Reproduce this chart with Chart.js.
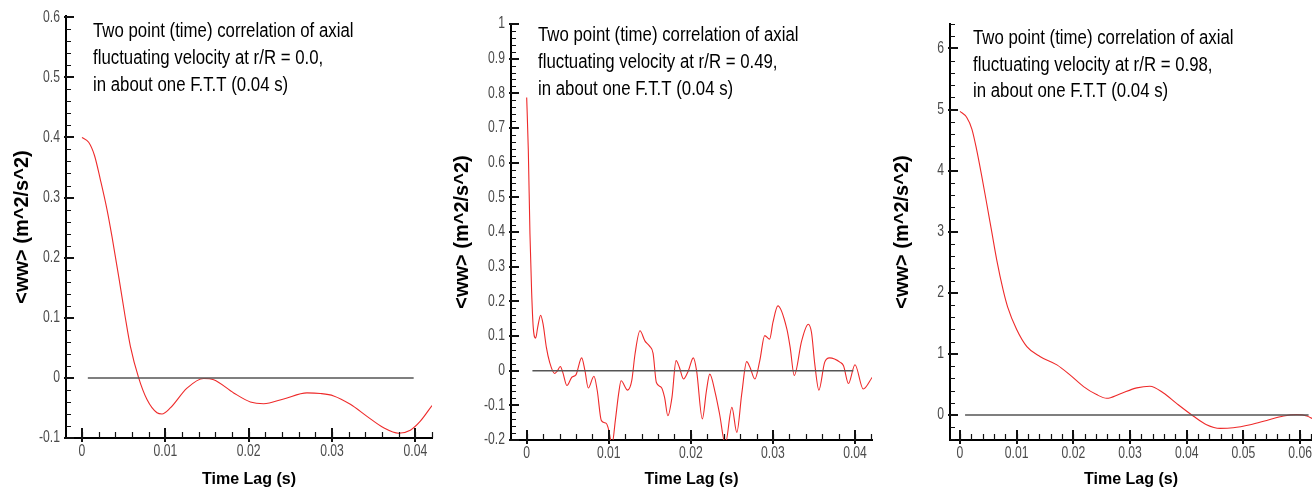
<!DOCTYPE html>
<html><head><meta charset="utf-8">
<script src="https://cdn.jsdelivr.net/npm/chart.js@4.4.1/dist/chart.umd.min.js"></script>
<style>
html,body{margin:0;padding:0;background:#fff;width:1312px;height:493px;overflow:hidden;}
.p{position:absolute;top:0;}
canvas{display:block;}
</style></head><body>
<div class="p" style="left:0px"><canvas id="c1" width="440" height="493"></canvas></div>
<div class="p" style="left:440px"><canvas id="c2" width="440" height="493"></canvas></div>
<div class="p" style="left:880px"><canvas id="c3" width="432" height="493"></canvas></div>
<script>
// ---------- data ----------
const lag1 = [0,0.0008,0.0015,0.0022,0.003,0.0036,0.0044,0.0052,0.0058,0.0068,0.0078,0.009,0.0096,0.0106,0.0126,0.0146,0.0158,0.0182,0.0202,0.0218,0.0242,0.027,0.0286,0.0302,0.0322,0.0342,0.0362,0.038,0.0394,0.0406,0.042];
const ww1  = [0.400,0.392,0.370,0.330,0.280,0.235,0.169,0.100,0.053,0.000,-0.036,-0.058,-0.060,-0.050,-0.017,-0.001,-0.003,-0.025,-0.040,-0.043,-0.035,-0.025,-0.026,-0.030,-0.044,-0.064,-0.083,-0.092,-0.087,-0.072,-0.046];

const lag2 = [0,0.0002,0.0004,0.0006,0.0008,0.0011,0.00134,0.0017,0.002,0.0024,0.0028,0.0034,0.0037,0.0041,0.0044,0.0049,0.0055,0.006,0.0067,0.0071,0.0075,0.0082,0.0086,0.0091,0.0097,0.0099,0.0104,0.0108,0.0112,0.0115,0.0123,0.0128,0.0132,0.0138,0.0144,0.015,0.0154,0.0158,0.0164,0.0168,0.0172,0.0177,0.0182,0.0186,0.0191,0.0197,0.0203,0.0207,0.0214,0.0219,0.0223,0.023,0.0235,0.0242,0.025,0.0256,0.0262,0.0268,0.0272,0.0278,0.0284,0.029,0.0296,0.03,0.0306,0.0317,0.0321,0.0326,0.0335,0.0343,0.0347,0.0351,0.0356,0.0363,0.0369,0.0382,0.0386,0.0392,0.04,0.041,0.0421];
const ww2  = [0.788,0.635,0.394,0.230,0.125,0.094,0.125,0.160,0.134,0.067,0.024,-0.008,-0.002,0.012,-0.005,-0.043,-0.019,-0.012,0.037,0.000,-0.050,-0.016,-0.058,-0.144,-0.152,-0.163,-0.212,-0.144,-0.067,-0.029,-0.056,-0.029,0.048,0.115,0.086,0.070,0.050,-0.034,-0.048,-0.077,-0.130,-0.077,0.029,0.010,-0.024,0.000,0.037,0.000,-0.139,-0.058,-0.010,-0.067,-0.125,-0.212,-0.106,-0.178,-0.067,0.026,0.010,-0.024,0.029,0.101,0.091,0.139,0.187,0.120,0.067,-0.014,0.086,0.134,0.110,0.019,-0.056,0.024,0.037,0.024,0.014,-0.037,0.017,-0.053,-0.019];

const lag3 = [0,0.0012,0.0021,0.0029,0.0038,0.0047,0.0056,0.0065,0.0076,0.0084,0.01,0.0118,0.0141,0.0171,0.0194,0.0218,0.0241,0.0259,0.0282,0.0312,0.0335,0.0359,0.0382,0.0412,0.0435,0.0459,0.0482,0.0512,0.0541,0.0571,0.0594,0.0612,0.0622];
const ww3  = [4.97,4.87,4.68,4.36,3.93,3.47,3.00,2.53,2.05,1.77,1.40,1.12,0.956,0.82,0.656,0.464,0.333,0.273,0.344,0.443,0.470,0.360,0.190,-0.020,-0.160,-0.220,-0.210,-0.160,-0.090,-0.016,0.005,-0.016,-0.060];

const zeroLag1 = [0.0007,0.0398], zeroLag2 = [0.0007,0.0398], zeroLag3 = [0.0009,0.0615];
const zeroVal = [0,0];

const xTicks1 = [0,0.01,0.02,0.03,0.04];
const xTicks2 = [0,0.01,0.02,0.03,0.04];
const xTicks3 = [0,0.01,0.02,0.03,0.04,0.05,0.06];
const xLabels1 = ['0','0.01','0.02','0.03','0.04'];
const xLabels2 = ['0','0.01','0.02','0.03','0.04'];
const xLabels3 = ['0','0.01','0.02','0.03','0.04','0.05','0.06'];
const yTicks1 = [-0.1,0,0.1,0.2,0.3,0.4,0.5,0.6];
const yLabels1 = ['-0.1','0','0.1','0.2','0.3','0.4','0.5','0.6'];
const yTicks2 = [-0.2,-0.1,0,0.1,0.2,0.3,0.4,0.5,0.6,0.7,0.8,0.9,1];
const yLabels2 = ['-0.2','-0.1','0','0.1','0.2','0.3','0.4','0.5','0.6','0.7','0.8','0.9','1'];
const yTicks3 = [0,1,2,3,4,5,6];
const yLabels3 = ['0','1','2','3','4','5','6'];

const note1 = ['Two point (time) correlation of axial','fluctuating velocity at r/R = 0.0,','in about one F.T.T (0.04 s)'];
const note2 = ['Two point (time) correlation of axial','fluctuating velocity at r/R = 0.49,','in about one F.T.T (0.04 s)'];
const note3 = ['Two point (time) correlation of axial','fluctuating velocity at r/R = 0.98,','in about one F.T.T (0.04 s)'];

const xTitle = 'Time Lag (s)';
const yTitle = '<ww> (m^2/s^2)';

// ---------- styling / drawing ----------
const SANS = '"Liberation Sans", Arial, Helvetica, sans-serif';
Chart.defaults.font.family = SANS;
Chart.defaults.animation = false;
const SQUEEZE = 0.76;

function minorList(major, min, max, sub){
  const step = (major[1]-major[0])/sub, out=[];
  for(let v=major[0]-step; v>=min-1e-9; v-=step) out.push(v);
  for(let v=major[0]; v<=max+1e-9; v+=step) out.push(v);
  return out;
}
function narrowText(ctx, txt, x, y, align, sx){
  ctx.save();
  ctx.translate(x, y);
  ctx.scale(sx, 1);
  ctx.textAlign = align;
  ctx.fillText(txt, 0, 0);
  ctx.restore();
}

const innerTicks = {
  id:'innerTicks',
  afterDraw(chart, args, o){
    const {ctx, chartArea:a, scales:{x,y}} = chart;
    ctx.save();
    ctx.strokeStyle = '#111';
    ctx.lineWidth = 1.2;
    ctx.beginPath();
    minorList(o.xMajor, x.min, x.max, 5).forEach(v=>{const p=Math.round(x.getPixelForValue(v))+0.5; ctx.moveTo(p,a.bottom); ctx.lineTo(p,a.bottom-6);});
    minorList(o.yMajor, y.min, y.max, 5).forEach(v=>{const p=Math.round(y.getPixelForValue(v))+0.5; ctx.moveTo(a.left,p); ctx.lineTo(a.left+5,p);});
    ctx.stroke();
    ctx.lineWidth = 2;
    ctx.beginPath();
    o.xMajor.forEach(v=>{const p=Math.round(x.getPixelForValue(v)); ctx.moveTo(p,a.bottom+4); ctx.lineTo(p,a.bottom-10);});
    o.yMajor.forEach(v=>{const p=Math.round(y.getPixelForValue(v)); ctx.moveTo(a.left-2,p); ctx.lineTo(a.left+8,p);});
    ctx.stroke();
    // tick labels (condensed look)
    ctx.fillStyle = '#4a4a4a';
    ctx.font = '16px ' + SANS;
    ctx.textBaseline = 'middle';
    o.xMajor.forEach((v,i)=>narrowText(ctx, o.xLab[i], x.getPixelForValue(v), a.bottom+14, 'center', SQUEEZE));
    o.yMajor.forEach((v,i)=>narrowText(ctx, o.yLab[i], a.left-6, y.getPixelForValue(v), 'right', SQUEEZE));
    // annotation
    ctx.fillStyle = '#000';
    ctx.font = '20px ' + SANS;
    ctx.textBaseline = 'alphabetic';
    o.note.forEach((t,i)=>narrowText(ctx, t, o.noteX, o.noteY[i], 'left', 0.84));
    ctx.restore();
  }
};

function makeChart(id, lag, ww, zeroLag, xr, yr, xT, xL, yT, yL, note, box){
  const pts = lag.map((v,i)=>({x:v, y:ww[i]}));
  const zpts = zeroLag.map((v,i)=>({x:v, y:zeroVal[i]}));
  return new Chart(document.getElementById(id), {
    type:'line',
    data:{datasets:[
      {data:zpts, borderColor:'#555', borderWidth:1.5, pointRadius:0, tension:0},
      {data:pts, borderColor:'#ee2a2a', borderWidth:1.1, pointRadius:0, cubicInterpolationMode:'monotone'}
    ]},
    options:{
      responsive:false, animation:false, events:[],
      layout:{autoPadding:false, padding:{left:0, right:box.pr, top:box.pt, bottom:0}},
      plugins:{legend:{display:false}, tooltip:{enabled:false},
               innerTicks:{xMajor:xT, yMajor:yT, xLab:xL, yLab:yL, note:note, noteX:box.nx, noteY:box.ny}},
      scales:{
        x:{type:'linear', min:xr[0], max:xr[1],
           afterBuildTicks:s=>{s.ticks = xT.map(v=>({value:v}));},
           afterFit:s=>{s.height = box.xh;},
           grid:{display:false, drawTicks:false},
           border:{display:true, color:'#000', width:2},
           ticks:{display:false},
           title:{display:true, text:xTitle, color:'#000', font:{family:SANS, size:16, weight:'bold'}, padding:{top:0,bottom:3.5}}
        },
        y:{type:'linear', min:yr[0], max:yr[1],
           afterBuildTicks:s=>{s.ticks = yT.map(v=>({value:v}));},
           afterFit:s=>{s.width = box.yw;},
           grid:{display:false, drawTicks:false},
           border:{display:true, color:'#000', width:2},
           ticks:{display:false},
           title:{display:true, text:yTitle, color:'#000', font:{family:SANS, size:20, weight:'bold'}, padding:{top:10,bottom:0}}
        }
      }
    },
    plugins:[innerTicks]
  });
}

makeChart('c1', lag1, ww1, zeroLag1, [-0.00192,0.0420], [-0.1,0.602], xTicks1, xLabels1, yTicks1, yLabels1, note1,
  {pr:8, pt:16, xh:55, yw:66, nx:93, ny:[36.5,63.5,90.5]});
makeChart('c2', lag2, ww2, zeroLag2, [-0.00191,0.04207], [-0.2,1.0], xTicks2, xLabels2, yTicks2, yLabels2, note2,
  {pr:8, pt:24, xh:53, yw:71, nx:98, ny:[40.5,68,95]});
makeChart('c3', lag3, ww3, zeroLag3, [-0.00176,0.0621], [-0.41,6.4], xTicks3, xLabels3, yTicks3, yLabels3, note3,
  {pr:0, pt:24, xh:53, yw:70, nx:93, ny:[44,70.5,97]});
</script>
</body></html>
